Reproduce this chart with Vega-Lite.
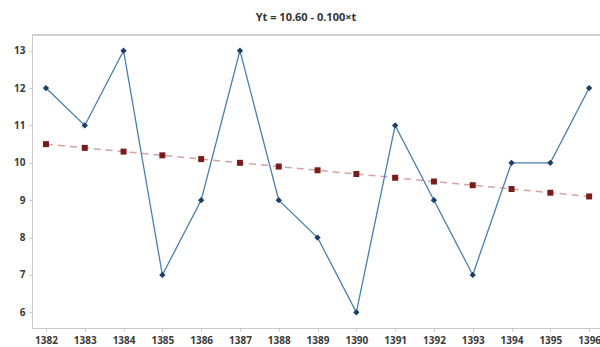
{
  "$schema": "https://vega.github.io/schema/vega-lite/v6.json",
  "autosize": "none",
  "width": 568,
  "height": 293,
  "padding": {"left": 32, "top": 35, "right": 0, "bottom": 19},
  "background": "white",
  "title": {
    "text": "Yt = 10.60 - 0.100×t",
    "fontSize": 11,
    "font": "Open Sans",
    "fontWeight": "bold",
    "color": "#333333",
    "offset": 12,
    "dx": -10
  },
  "config": {
    "view": {"stroke": null},
    "axis": {
      "grid": false,
      "domainColor": "#c8c8c8",
      "tickColor": "#c8c8c8",
      "tickSize": 3,
      "labelFont": "Open Sans",
      "labelFontWeight": "bold",
      "labelFontSize": 10,
      "labelColor": "#3a3a3a",
      "title": null
    }
  },
  "data": {
    "values": [
      {"year": 1382, "actual": 12, "trend": 10.5},
      {"year": 1383, "actual": 11, "trend": 10.4},
      {"year": 1384, "actual": 13, "trend": 10.3},
      {"year": 1385, "actual": 7, "trend": 10.2},
      {"year": 1386, "actual": 9, "trend": 10.1},
      {"year": 1387, "actual": 13, "trend": 10.0},
      {"year": 1388, "actual": 9, "trend": 9.9},
      {"year": 1389, "actual": 8, "trend": 9.8},
      {"year": 1390, "actual": 6, "trend": 9.7},
      {"year": 1391, "actual": 11, "trend": 9.6},
      {"year": 1392, "actual": 9, "trend": 9.5},
      {"year": 1393, "actual": 7, "trend": 9.4},
      {"year": 1394, "actual": 10, "trend": 9.3},
      {"year": 1395, "actual": 10, "trend": 9.2},
      {"year": 1396, "actual": 12, "trend": 9.1}
    ]
  },
  "layer": [
    {
      "mark": {"type": "line", "color": "#d4a4a4", "strokeDash": [7, 5], "strokeWidth": 1.5},
      "encoding": {
        "x": {
          "field": "year",
          "type": "quantitative",
          "scale": {"domain": [1381.64, 1396.28], "nice": false, "zero": false},
          "axis": {"values": [1382,1383,1384,1385,1386,1387,1388,1389,1390,1391,1392,1393,1394,1395,1396], "format": "d", "labelPadding": 4, "labelFlush": false}
        },
        "y": {"field": "trend", "type": "quantitative", "scale": {"domain": [5.58, 13.42], "nice": false, "zero": false},
          "axis": {"values": [6,7,8,9,10,11,12,13], "labelPadding": 4}}
      }
    },
    {
      "mark": {"type": "rule", "color": "#d0d0d0", "strokeWidth": 1},
      "encoding": {"y": {"datum": 13.42, "type": "quantitative"}}
    },
    {
      "mark": {"type": "point", "shape": "square", "filled": true, "color": "#7a1c1c", "size": 36, "opacity": 1},
      "encoding": {
        "x": {"field": "year", "type": "quantitative"},
        "y": {"field": "trend", "type": "quantitative"}
      }
    },
    {
      "mark": {"type": "line", "color": "#4a7fae", "strokeWidth": 1.3},
      "encoding": {
        "x": {"field": "year", "type": "quantitative"},
        "y": {"field": "actual", "type": "quantitative"}
      }
    },
    {
      "mark": {"type": "point", "shape": "diamond", "filled": true, "color": "#1d3f66", "size": 40, "opacity": 1},
      "encoding": {
        "x": {"field": "year", "type": "quantitative"},
        "y": {"field": "actual", "type": "quantitative"}
      }
    }
  ]
}
